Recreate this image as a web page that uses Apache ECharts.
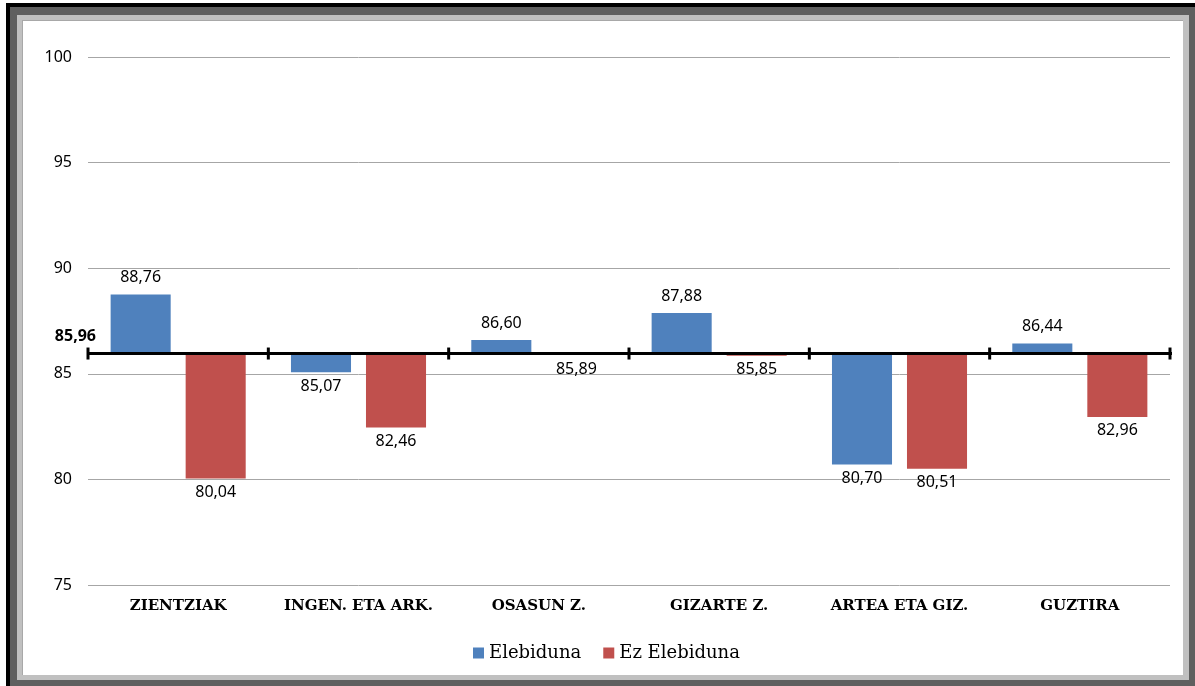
<!DOCTYPE html>
<html>
<head>
<meta charset="utf-8">
<script src="https://cdn.jsdelivr.net/npm/echarts@6/dist/echarts.min.js"></script>
<style>
html,body{margin:0;padding:0;width:1195px;height:686px;overflow:hidden;background:#fff;}
.f{position:absolute;}
#chart{position:absolute;left:0;top:0;width:1195px;height:686px;}
</style>
</head>
<body>
<div class="f" style="left:6px;top:3px;right:-20px;bottom:-20px;background:#000;"></div>
<div class="f" style="left:10px;top:7px;right:0;bottom:0;background:#5f5f5f;"></div>
<div class="f" style="left:17px;top:15px;right:6px;bottom:6px;background:#c0c0c0;"></div>
<div class="f" style="left:22px;top:20px;right:12px;bottom:11px;background:#fff;border-left:1px solid #a8a8a8;border-top:1px solid #a8a8a8;"></div>
<div id="chart"></div>
<script>
const categories = ['ZIENTZIAK', 'INGEN. ETA ARK.', 'OSASUN Z.', 'GIZARTE Z.', 'ARTEA ETA GIZ.', 'GUZTIRA'];
const seriesNames = ['Elebiduna', 'Ez Elebiduna'];
const elebiduna = [88.76, 85.07, 86.60, 87.88, 80.70, 86.44];
const ezElebiduna = [80.04, 82.46, 85.89, 85.85, 80.51, 82.96];
const baseValue = 85.96;
const yMin = 75, yMax = 100, yInterval = 5;

const colors = ['#4f81bd', '#c0504d'];
const fmt = v => v.toFixed(2).replace('.', ',');
const valueFont = '16px "Noto Sans", sans-serif';

function barRenderer(offsetFrac, color) {
  return function (params, api) {
    const cat = api.value(0), val = api.value(1);
    const band = api.size([1, 0])[0];
    const w = band * 0.333;
    const off = band * offsetFrac;
    const p0 = api.coord([cat, baseValue]);
    const p1 = api.coord([cat, val]);
    const cx = p0[0] + off;
    const top = Math.min(p0[1], p1[1]);
    const h = Math.max(Math.abs(p1[1] - p0[1]), 1);
    const up = val >= baseValue;
    return {
      type: 'group',
      children: [
        {type: 'rect', shape: {x: cx - w / 2, y: top, width: w, height: h}, style: {fill: color}},
        {type: 'text', z2: 10, style: {text: fmt(val), x: cx, y: up ? p1[1] - 17 : p1[1] + 14,
          align: 'center', verticalAlign: 'middle', font: valueFont, fill: '#000'}}
      ]
    };
  };
}

function baselineRenderer(params, api) {
  const cat = api.value(0);
  const band = api.size([1, 0])[0];
  const c = api.coord([cat, baseValue]);
  const left = c[0] - band / 2, right = c[0] + band / 2, y = c[1];
  const style = {stroke: '#000', lineWidth: 3};
  const children = [
    {type: 'line', shape: {x1: left, y1: y, x2: right + (cat === categories.length - 1 ? 2 : 0), y2: y}, style: style},
    {type: 'line', shape: {x1: left, y1: y - 6, x2: left, y2: y + 6}, style: style}
  ];
  if (cat === categories.length - 1) {
    children.push({type: 'line', shape: {x1: right, y1: y - 6, x2: right, y2: y + 6}, style: style});
  }
  if (cat === 0) {
    children.push({type: 'text', style: {text: fmt(baseValue), x: left + 8, y: y - 17, align: 'right',
      verticalAlign: 'middle', font: 'bold 16px "Noto Sans", sans-serif', fill: '#000'}});
  }
  return {type: 'group', children: children};
}

const chart = echarts.init(document.getElementById('chart'), null, {renderer: 'canvas'});
chart.setOption({
  animation: false,
  grid: {left: 88, right: 25, top: 57, bottom: 101, containLabel: false},
  legend: {
    data: seriesNames, top: 639, left: 468, itemWidth: 11, itemHeight: 11, itemGap: 22,
    icon: 'rect',
    textStyle: {fontFamily: '"DejaVu Serif", serif', fontSize: 18, color: '#000', padding: [0, 0, 0, 0]}
  },
  xAxis: {
    type: 'category', data: categories,
    axisLine: {show: false}, axisTick: {show: false},
    axisLabel: {margin: 14, color: '#000', fontFamily: '"DejaVu Serif", serif', fontWeight: 'bold', fontSize: 15, interval: 0}
  },
  yAxis: {
    type: 'value', min: yMin, max: yMax, interval: yInterval,
    axisLine: {show: false}, axisTick: {show: false},
    axisLabel: {margin: 16, color: '#000', fontFamily: '"Noto Sans", sans-serif', fontSize: 16},
    splitLine: {lineStyle: {color: '#a6a6a6', width: 1}}
  },
  series: [
    {name: seriesNames[0], type: 'custom', itemStyle: {color: colors[0]}, clip: false,
      data: elebiduna.map((v, i) => [i, v]), renderItem: barRenderer(-0.208, colors[0]), z: 2},
    {name: seriesNames[1], type: 'custom', itemStyle: {color: colors[1]}, clip: false,
      data: ezElebiduna.map((v, i) => [i, v]), renderItem: barRenderer(0.208, colors[1]), z: 2},
    {name: 'baseline', type: 'custom', clip: false, z: 5, silent: true,
      data: categories.map((c, i) => [i, baseValue]), renderItem: baselineRenderer}
  ]
});
</script>
</body>
</html>
